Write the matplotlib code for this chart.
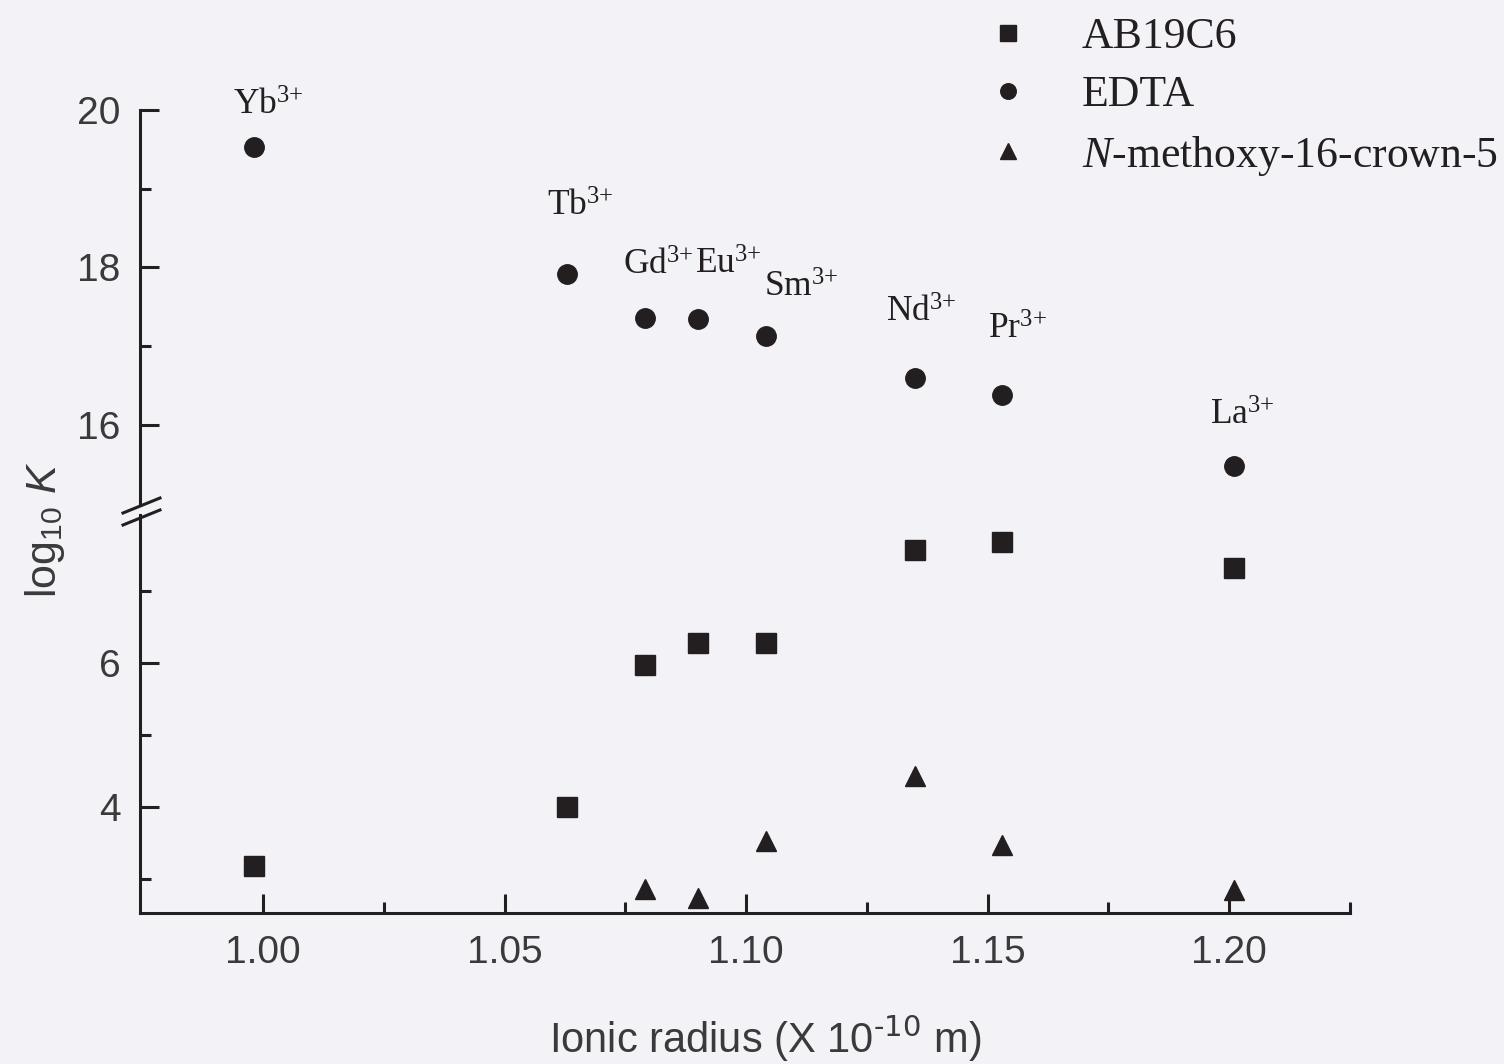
import matplotlib.pyplot as plt
from matplotlib.lines import Line2D

plt.rcParams['mathtext.fontset'] = 'custom'
plt.rcParams['mathtext.it'] = 'Liberation Serif:italic'
plt.rcParams['mathtext.sf'] = 'Liberation Sans:italic'
plt.rcParams['mathtext.default'] = 'regular'

# data
ions = ['Yb', 'Tb', 'Gd', 'Eu', 'Sm', 'Nd', 'Pr', 'La']
radius = [0.998, 1.063, 1.079, 1.090, 1.104, 1.135, 1.153, 1.201]
logk_ab19c6 = [3.18, 4.00, 5.98, 6.28, 6.28, 7.58, 7.69, 7.32]
logk_edta = [19.53, 17.91, 17.36, 17.35, 17.13, 16.60, 16.38, 15.47]
radius_crown = [1.079, 1.090, 1.104, 1.135, 1.153, 1.201]
logk_crown = [2.86, 2.74, 3.53, 4.43, 3.47, 2.85]

# label offsets (points) from the EDTA markers
label_off = [(-15, 23), (-15, 42), (-16, 31), (-2, 32), (-1, 28),
             (-21, 40), (-10, 40), (-17, 30)]

ink = '#231f20'
bg = '#f3f2f7'
W, H = 1504, 1064

fig = plt.figure(figsize=(15.04, 10.64), dpi=100, facecolor=bg)


def fx(x):
    return x / W


def fy(y):
    return 1 - y / H


left, right = fx(140), fx(1350)
ax_top = fig.add_axes([left, fy(505), right - left, fy(110) - fy(505)])
ax_bot = fig.add_axes([left, fy(913), right - left, fy(515) - fy(913)])

for ax in (ax_top, ax_bot):
    ax.set_facecolor('none')
    ax.set_xlim(0.9745, 1.225)
    for s in ('top', 'right'):
        ax.spines[s].set_visible(False)
    ax.spines['left'].set_linewidth(2.2)
    ax.spines['left'].set_color(ink)
    ax.tick_params(axis='y', which='major', direction='in', length=14,
                   width=2.2, color=ink, labelsize=28, pad=14,
                   labelcolor='#3a3a3a')
    ax.tick_params(axis='y', which='minor', direction='in', length=8,
                   width=2.2, color=ink)

ax_top.spines['bottom'].set_visible(False)
ax_top.tick_params(axis='x', which='both', bottom=False, labelbottom=False)
ax_top.set_ylim(14.98, 20.0)
ax_top.set_yticks([16, 18, 20])
ax_top.set_yticks([17, 19], minor=True)

ax_bot.set_ylim(2.53, 8.06)
ax_bot.set_yticks([4, 6])
ax_bot.set_yticks([3, 5, 7], minor=True)
ax_bot.spines['bottom'].set_linewidth(2.2)
ax_bot.spines['bottom'].set_color(ink)
ax_bot.set_xticks([1.00, 1.05, 1.10, 1.15, 1.20])
ax_bot.set_xticks([1.025, 1.075, 1.125, 1.175, 1.225], minor=True)
ax_bot.set_xticklabels(['1.00', '1.05', '1.10', '1.15', '1.20'])
ax_bot.tick_params(axis='x', which='major', direction='in', length=14,
                   width=2.2, color=ink, labelsize=28, pad=16,
                   labelcolor='#3a3a3a')
ax_bot.tick_params(axis='x', which='minor', direction='in', length=8,
                   width=2.2, color=ink)
for ax in (ax_top, ax_bot):
    for t in ax.get_yticklabels() + ax.get_xticklabels():
        t.set_family('Liberation Sans')

sq, = ax_bot.plot(radius, logk_ab19c6, 's', color=ink, ms=14, ls='none',
                  clip_on=False)
tri, = ax_bot.plot(radius_crown, logk_crown, '^', color=ink, ms=15,
                   ls='none', clip_on=False)
dot, = ax_top.plot(radius, logk_edta, 'o', color=ink, ms=14, ls='none',
                   clip_on=False)

for name, x, y, off in zip(ions, radius, logk_edta, label_off):
    ax_top.annotate(name + '$^{3{+}}$', (x, y), xytext=off,
                    textcoords='offset points', ha='left', va='baseline',
                    fontsize=25.5, family='Liberation Serif', color=ink)

# axis break marks
for y0, y1 in ((513, 498), (525, 510)):
    fig.add_artist(Line2D([fx(123), fx(160)], [fy(y0), fy(y1)],
                          color=ink, lw=2.2, transform=fig.transFigure))

fig.text(fx(765), fy(1038), r'Ionic radius (X 10$^{\text{-10}}$ m)',
         ha='center', va='center', fontsize=30, family='Liberation Sans',
         color='#3a3a3a')
fig.text(fx(45), fy(530), r'log$_{10}$ $\mathsf{K}$', rotation=90,
         ha='center', va='center', fontsize=31, family='Liberation Sans',
         color='#3a3a3a')

fig.legend([sq, dot, tri],
           ['AB19C6', 'EDTA', '$\\mathit{N}$-methoxy-16-crown-5'],
           loc='upper left', bbox_to_anchor=(fx(988), fy(17)),
           frameon=False, prop={'family': 'Liberation Serif', 'size': 31.5},
           handlelength=0.9, handletextpad=1.25, labelspacing=0.42,
           borderpad=0, borderaxespad=0, markerscale=0.8,
           labelcolor=ink)

fig.savefig('out.png', dpi=100, facecolor=bg)
